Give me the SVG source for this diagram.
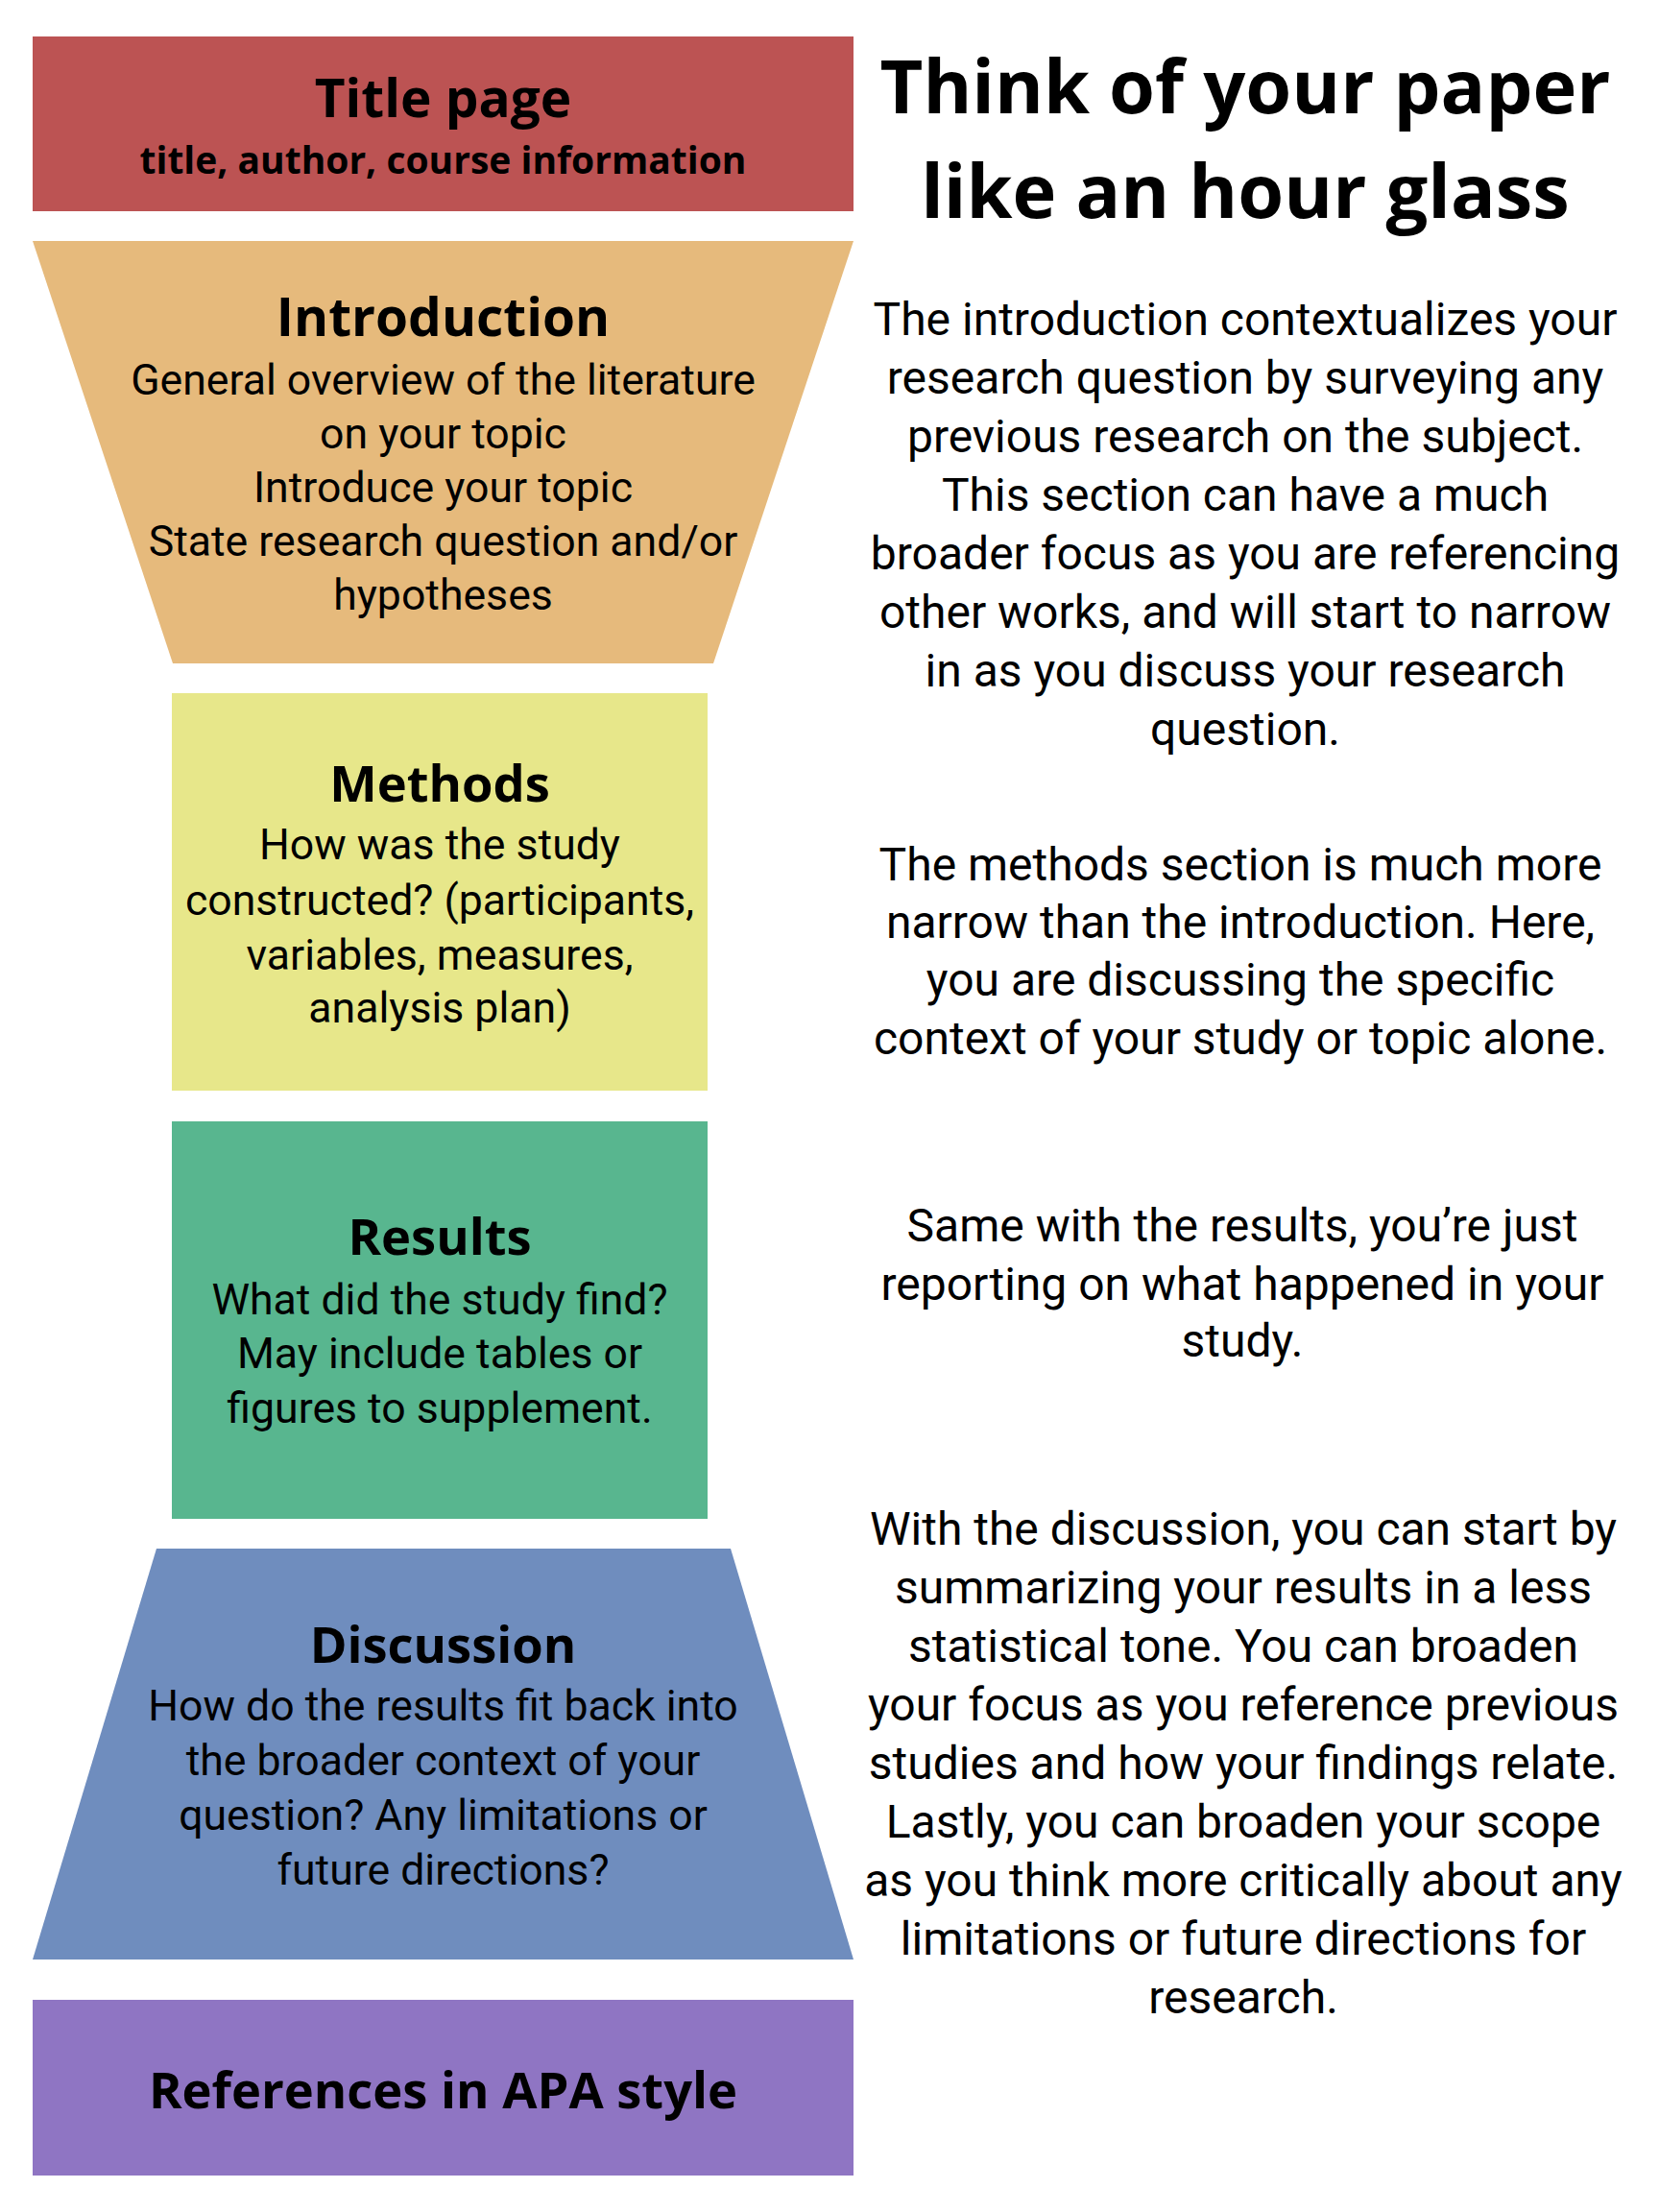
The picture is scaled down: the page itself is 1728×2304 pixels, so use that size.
<svg xmlns="http://www.w3.org/2000/svg" width="1728" height="2304" viewBox="0 0 1728 2304">
  <style>
    .head { font-family: "Open Sans", "Noto Sans", sans-serif; font-weight: 700; fill: #000; text-anchor: middle; }
    .body { font-family: Roboto, "Noto Sans", sans-serif; font-weight: 400; fill: #000; text-anchor: middle; }
    .lbody { font-size: 44.6px; }
    .rbody { font-size: 48px; }
  </style>
  <rect width="1728" height="2304" fill="#ffffff"/>

  <!-- left column: hour-glass sections -->
  <g id="title-page">
    <rect x="34" y="38" width="855" height="182" fill="#BC5353"/>
    <text class="head" x="461.5" y="122" font-size="55">Title page</text>
    <text class="head" x="461.5" y="181" font-size="39">title, author, course information</text>
  </g>

  <g id="introduction">
    <polygon points="34,251 889,251 743,691 180,691" fill="#E6BA7C"/>
    <text class="head" x="461.5" y="350" font-size="55">Introduction</text>
    <text class="body lbody" x="461.5" y="411">General overview of the literature</text>
    <text class="body lbody" x="461.5" y="467">on your topic</text>
    <text class="body lbody" x="461.5" y="523">Introduce your topic</text>
    <text class="body lbody" x="461.5" y="579">State research question and/or</text>
    <text class="body lbody" x="461.5" y="635">hypotheses</text>
  </g>

  <g id="methods">
    <rect x="179" y="722" width="558" height="414" fill="#E7E78A"/>
    <text class="head" x="458" y="835" font-size="52.5">Methods</text>
    <text class="body lbody" x="458" y="895">How was the study</text>
    <text class="body lbody" x="458" y="953">constructed? (participants,</text>
    <text class="body lbody" x="458" y="1010">variables, measures,</text>
    <text class="body lbody" x="458" y="1065">analysis plan)</text>
  </g>

  <g id="results">
    <rect x="179" y="1168" width="558" height="414" fill="#58B68F"/>
    <text class="head" x="458" y="1307" font-size="52.5">Results</text>
    <text class="body lbody" x="458" y="1369">What did the study find?</text>
    <text class="body lbody" x="458" y="1425">May include tables or</text>
    <text class="body lbody" x="458" y="1482">figures to supplement.</text>
  </g>

  <g id="discussion">
    <polygon points="163,1613 761,1613 889,2041 34,2041" fill="#6F8DBE"/>
    <text class="head" x="461.5" y="1732" font-size="52.5">Discussion</text>
    <text class="body lbody" x="461.5" y="1792">How do the results fit back into</text>
    <text class="body lbody" x="461.5" y="1849">the broader context of your</text>
    <text class="body lbody" x="461.5" y="1906">question? Any limitations or</text>
    <text class="body lbody" x="461.5" y="1963">future directions?</text>
  </g>

  <g id="references">
    <rect x="34" y="2083" width="855" height="183" fill="#8F75C3"/>
    <text class="head" x="461.5" y="2196" font-size="52.5">References in APA style</text>
  </g>

  <!-- right column: heading and section notes -->
  <g id="heading">
    <text class="head" x="1297" y="118" font-size="77.5">Think of your paper</text>
    <text class="head" x="1297" y="227" font-size="77.5">like an hour glass</text>
  </g>

  <g id="note-introduction">
    <text class="body rbody" x="1297" y="349">The introduction contextualizes your</text>
    <text class="body rbody" x="1297" y="410">research question by surveying any</text>
    <text class="body rbody" x="1297" y="471">previous research on the subject.</text>
    <text class="body rbody" x="1297" y="532">This section can have a much</text>
    <text class="body rbody" x="1297" y="593">broader focus as you are referencing</text>
    <text class="body rbody" x="1297" y="654">other works, and will start to narrow</text>
    <text class="body rbody" x="1297" y="715">in as you discuss your research</text>
    <text class="body rbody" x="1297" y="776">question.</text>
  </g>

  <g id="note-methods">
    <text class="body rbody" x="1292" y="917">The methods section is much more</text>
    <text class="body rbody" x="1292" y="977">narrow than the introduction. Here,</text>
    <text class="body rbody" x="1292" y="1037">you are discussing the specific</text>
    <text class="body rbody" x="1292" y="1098">context of your study or topic alone.</text>
  </g>

  <g id="note-results">
    <text class="body rbody" x="1294" y="1293">Same with the results, you’re just</text>
    <text class="body rbody" x="1294" y="1354">reporting on what happened in your</text>
    <text class="body rbody" x="1294" y="1413">study.</text>
  </g>

  <g id="note-discussion">
    <text class="body rbody" x="1295" y="1609">With the discussion, you can start by</text>
    <text class="body rbody" x="1295" y="1670">summarizing your results in a less</text>
    <text class="body rbody" x="1295" y="1731">statistical tone. You can broaden</text>
    <text class="body rbody" x="1295" y="1792">your focus as you reference previous</text>
    <text class="body rbody" x="1295" y="1853">studies and how your findings relate.</text>
    <text class="body rbody" x="1295" y="1914">Lastly, you can broaden your scope</text>
    <text class="body rbody" x="1295" y="1975">as you think more critically about any</text>
    <text class="body rbody" x="1295" y="2036">limitations or future directions for</text>
    <text class="body rbody" x="1295" y="2097">research.</text>
  </g>

  <!-- no connectors between sections -->
  <g id="connectors"/>
</svg>
